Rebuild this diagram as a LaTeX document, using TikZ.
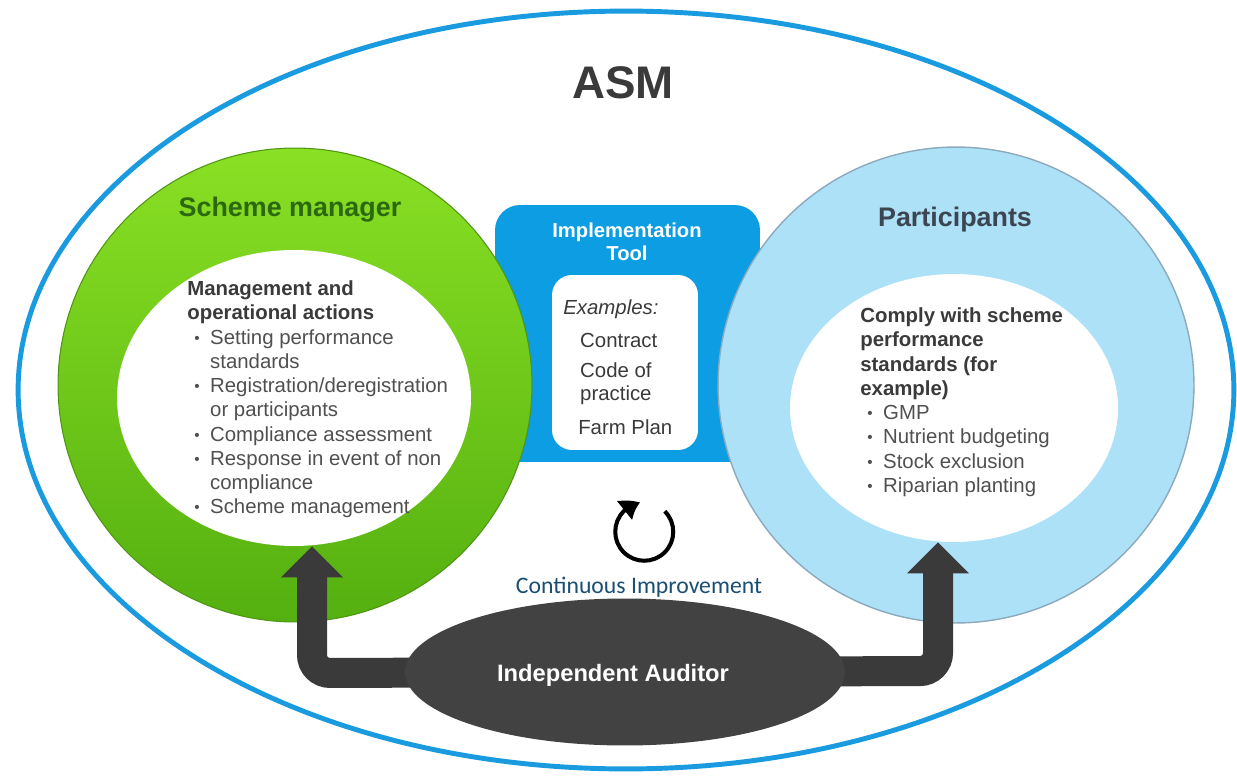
\documentclass[tikz,border=0pt]{standalone}
\usepackage{fontspec}
\setmainfont{Liberation Sans}
\newfontfamily\calibfont{Carlito}
\usepackage{graphicx}
\definecolor{AsmBlue}{RGB}{26, 155, 224}
\definecolor{MgrTop}{RGB}{138, 224, 36}
\definecolor{MgrBottom}{RGB}{84, 176, 16}
\definecolor{MgrEdge}{RGB}{80, 150, 20}
\definecolor{MgrText}{RGB}{44, 104, 16}
\definecolor{PartBlue}{RGB}{172, 225, 247}
\definecolor{PartEdge}{RGB}{140, 170, 188}
\definecolor{PartText}{RGB}{59, 70, 82}
\definecolor{ToolBlue}{RGB}{12, 157, 227}
\definecolor{TextDark}{RGB}{58, 58, 58}
\definecolor{TextGray}{RGB}{80, 80, 80}
\definecolor{AudGray}{RGB}{66, 66, 66}
\definecolor{ArrowGray}{RGB}{58, 58, 58}
\definecolor{CiBlue}{RGB}{26, 79, 114}
\usetikzlibrary{arrows.meta, bending, positioning, shapes.geometric}
\newcommand{\blt}{\makebox[13pt][l]{\hspace{4pt}\raisebox{0.5pt}{\scalebox{0.75}{\textbullet}}}}
\newcommand{\ind}{\hspace{13pt}}
\newcommand{\hd}[1]{\textcolor{TextDark}{\textbf{#1}}}

\begin{document}
\begin{tikzpicture}[x=0.02cm, y=-0.02cm,
        ring/.style={circle, inner sep=0pt, minimum size=#1},
        hole/.style={ellipse, fill=white, inner sep=0pt},
        title/.style={anchor=base, inner sep=0pt, font=\bfseries\fontsize{15.3}{18}\selectfont},
        body/.style={anchor=north west, inner sep=0pt, align=left, text=TextGray, font=\fontsize{11.6}{13.8}\selectfont},
        lift/.style={line width=0.6cm, draw=ArrowGray, rounded corners=0.36cm, -{Triangle[width=1.2cm, length=0.62cm]}}
    ]
        \fill[white] (0,0) rectangle (1237,777);
        \useasboundingbox (0,0) rectangle (1237,777);
        \node[ellipse, draw=AsmBlue, line width=2.8pt, minimum width=24.32cm, minimum height=15.16cm, inner sep=0pt] (asm) at (626,390) {};
        \node[anchor=base, inner sep=0pt, text=TextDark, font=\bfseries\fontsize{26}{30}\selectfont] (asmlabel) at (623,98.5) {ASM};
        \node[rectangle, rounded corners=0.5cm, fill=ToolBlue, minimum width=5.3cm, minimum height=5.14cm, inner sep=0pt] (tool) at (627.5,333.5) {};
        \node[ring=9.48cm, top color=MgrTop, bottom color=MgrBottom, draw=MgrEdge, line width=0.6pt] (mgr) at (295,385) {};
        \node[hole, minimum width=7.08cm, minimum height=5.92cm] (mgrhole) at (294,398) {};
        \node[ring=9.52cm, fill=PartBlue, draw=PartEdge, line width=0.8pt] (part) at (956,385) {};
        \node[hole, minimum width=6.56cm, minimum height=5.36cm] (parthole) at (954,408) {};
        \node[rectangle, rounded corners=0.4cm, fill=white, minimum width=2.92cm, minimum height=3.5cm, inner sep=0pt] (toolhole) at (625,362.5) {};
        \node[title, text=MgrText] (mgrtitle) at (290,216.7) {Scheme manager};
        \node[title, text=PartText] (parttitle) at (955,226.7) {Participants};
        \node[anchor=north, align=center, inner sep=0pt, text=white, font=\bfseries\fontsize{11.5}{13}\selectfont] (tooltitle) at (627,222.5) {Implementation\\Tool};
        \node[body] (mgrtext) at (187,280.5) {\hd{Management and}\\\hd{operational actions}\\\blt Setting performance\\\ind standards\\\blt Registration/deregistration\\\ind or participants\\\blt Compliance assessment\\\blt Response in event of non\\\ind compliance\\\blt Scheme management};
        \node[body] (parttext) at (860,307.5) {\hd{Comply with scheme}\\\hd{performance}\\\hd{standards (for}\\\hd{example)}\\\blt GMP\\\blt Nutrient budgeting\\\blt Stock exclusion\\\blt Riparian planting};
        \node[body, text=TextDark, font=\fontsize{11.6}{13}\selectfont] (tooltext) at (563,299.5) {\textit{Examples:}\\[5.7pt]\hspace{9.6pt}Contract\\[4pt]\hspace{9.6pt}Code of\\\hspace{9.6pt}practice\\[6.8pt]\hspace{8.5pt}Farm Plan};
        \node[circle, minimum size=1.16cm, inner sep=0pt] (cycle) at (644,532) {};
        \draw[line width=2.3pt, -{Triangle[width=13pt, length=10pt, bend]}] (cycle.45) arc[start angle=45, end angle=-262, radius=0.58cm];
        \node[anchor=base, inner sep=0pt, text=CiBlue, font=\calibfont\fontsize{13.5}{16}\selectfont] (cilabel) at (639,593) {Continuous Improvement};
        \coordinate (audc) at (625,672);
        \coordinate (lbend) at (312,673);
        \coordinate (rbend) at (938,671);
        \draw[lift] (audc) -- (lbend) -- (lbend |- mgrhole.south);
        \draw[lift] (audc) -- (rbend) -- (rbend |- parthole.south);
        \node[ellipse, fill=AudGray, minimum width=8.8cm, minimum height=2.94cm, inner sep=0pt] (aud) at (audc) {};
        \node[anchor=base, inner sep=0pt, text=white, font=\bfseries\fontsize{13.5}{16}\selectfont] (audlabel) at (613,681.5) {Independent Auditor};
    \end{tikzpicture}
\end{document}
